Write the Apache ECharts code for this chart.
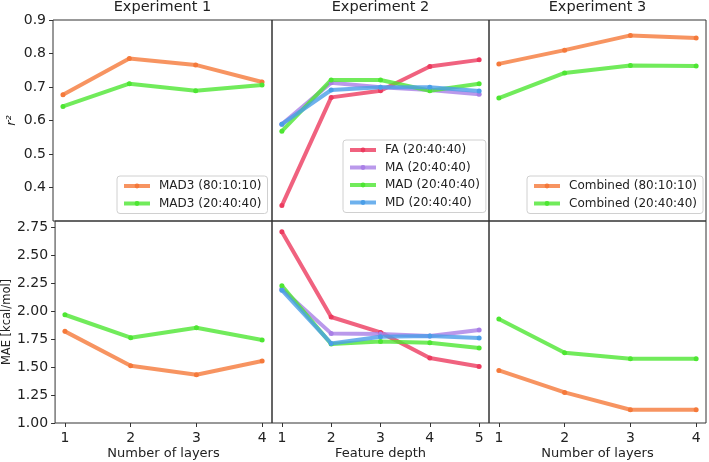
<!DOCTYPE html>
<html>
<head>
<meta charset="utf-8">
<script src="https://cdn.jsdelivr.net/npm/echarts@6/dist/echarts.min.js"></script>
<style>html,body{margin:0;padding:0;background:#fff}#c{width:709px;height:462px}</style>
</head>
<body>
<div id="c"></div>
<script>
// ---- data ----
const titles = ['Experiment 1', 'Experiment 2', 'Experiment 3'];
const xNames = ['Number of layers', 'Feature depth', 'Number of layers'];
const layers = [1, 2, 3, 4];
const depths = [1, 2, 3, 4, 5];
const r2Ticks = [0.4, 0.5, 0.6, 0.7, 0.8, 0.9];
const maeTicks = [1.00, 1.25, 1.50, 1.75, 2.00, 2.25, 2.50, 2.75];

// Experiment 1
const e1_r2_mad3_801010 = [0.677, 0.785, 0.766, 0.715];
const e1_r2_mad3_204040 = [0.642, 0.710, 0.689, 0.706];
const e1_mae_mad3_801010 = [1.821, 1.513, 1.433, 1.556];
const e1_mae_mad3_204040 = [1.970, 1.764, 1.854, 1.744];

// Experiment 2
const e2_r2_fa = [0.346, 0.669, 0.689, 0.761, 0.781];
const e2_r2_ma = [0.589, 0.713, 0.699, 0.691, 0.678];
const e2_r2_mad = [0.568, 0.721, 0.721, 0.689, 0.710];
const e2_r2_md = [0.589, 0.691, 0.699, 0.699, 0.688];
const e2_mae_fa = [2.714, 1.950, 1.812, 1.582, 1.507];
const e2_mae_ma = [2.200, 1.803, 1.797, 1.779, 1.833];
const e2_mae_mad = [2.230, 1.708, 1.731, 1.720, 1.672];
const e2_mae_md = [2.190, 1.713, 1.773, 1.779, 1.761];

// Experiment 3
const e3_r2_comb_801010 = [0.769, 0.810, 0.854, 0.846];
const e3_r2_comb_204040 = [0.667, 0.742, 0.764, 0.763];
const e3_mae_comb_801010 = [1.471, 1.274, 1.119, 1.119];
const e3_mae_comb_204040 = [1.932, 1.630, 1.576, 1.576];

// ---- styling ----
const C = {
  orange: '#f5793a',
  green: '#4de632',
  red: '#ec3b5f',
  purple: '#a97fe6',
  blue: '#4a9ee8'
};
const FONT = 'DejaVu Sans';
const gridLefts = [53, 272, 489];
const gridWidths = [219, 217, 217];
const rowTops = [20, 221];
const rowHeights = [201, 202];

const grids = [];
const xAxes = [];
const yAxes = [];
for (let r = 0; r < 2; r++) {
  for (let c = 0; c < 3; c++) {
    grids.push({
      left: gridLefts[c], top: rowTops[r], width: gridWidths[c], height: rowHeights[r],
      show: true, borderColor: '#333', borderWidth: 1, backgroundColor: 'transparent',
      containLabel: false
    });
    const xs = c === 1 ? depths : layers;
    const span = xs[xs.length - 1] - xs[0];
    const gi = r * 3 + c;
    xAxes.push({
      gridIndex: gi, type: 'value',
      min: xs[0] - 0.05 * span, max: xs[xs.length - 1] + 0.05 * span,
      axisLine: { show: false },
      splitLine: { show: false },
      axisTick: { show: r === 1, customValues: xs, length: 4, inside: false, lineStyle: { color: '#333' } },
      axisLabel: { show: r === 1, customValues: xs, margin: 8, color: '#222', fontFamily: FONT, fontSize: 14 },
      name: r === 1 ? xNames[c] : '',
      nameLocation: 'middle', nameGap: 24,
      nameTextStyle: { fontFamily: FONT, fontSize: 13, color: '#222' }
    });
    const ticks = r === 0 ? r2Ticks : maeTicks;
    yAxes.push({
      gridIndex: gi, type: 'value',
      min: r === 0 ? 0.3 : 1.0, max: r === 0 ? 0.9 : 2.81,
      axisLine: { show: false },
      splitLine: { show: false },
      axisTick: { show: c === 0, customValues: ticks, length: 4, lineStyle: { color: '#333' } },
      axisLabel: {
        show: c === 0, customValues: ticks, margin: 7, color: '#222', fontFamily: FONT, fontSize: 14,
        formatter: v => r === 0 ? Number(v).toFixed(1) : Number(v).toFixed(2)
      },
      name: c === 0 ? (r === 0 ? 'r²' : 'MAE [kcal/mol]') : '',
      nameLocation: 'middle', nameGap: 35,
      nameTextStyle: { fontFamily: FONT, fontSize: r === 0 ? 13 : 11.5, color: '#222', fontStyle: r === 0 ? 'italic' : 'normal' }
    });
  }
}

function mk(name, gi, xs, ys, color) {
  return {
    name: name, type: 'line', xAxisIndex: gi, yAxisIndex: gi,
    data: xs.map((x, i) => [x, ys[i]]),
    symbol: 'circle', symbolSize: 5, showSymbol: true,
    itemStyle: { color: color },
    lineStyle: { color: color, width: 4, opacity: 0.8 },
    emphasis: { disabled: true },
    animation: false
  };
}

const series = [
  mk('MAD3 (80:10:10)', 0, layers, e1_r2_mad3_801010, C.orange),
  mk('MAD3 (20:40:40)', 0, layers, e1_r2_mad3_204040, C.green),
  mk('FA (20:40:40)', 1, depths, e2_r2_fa, C.red),
  mk('MA (20:40:40)', 1, depths, e2_r2_ma, C.purple),
  mk('MAD (20:40:40)', 1, depths, e2_r2_mad, C.green),
  mk('MD (20:40:40)', 1, depths, e2_r2_md, C.blue),
  mk('Combined (80:10:10)', 2, layers, e3_r2_comb_801010, C.orange),
  mk('Combined (20:40:40)', 2, layers, e3_r2_comb_204040, C.green),
  mk('MAD3 (80:10:10) ', 3, layers, e1_mae_mad3_801010, C.orange),
  mk('MAD3 (20:40:40) ', 3, layers, e1_mae_mad3_204040, C.green),
  mk('FA (20:40:40) ', 4, depths, e2_mae_fa, C.red),
  mk('MA (20:40:40) ', 4, depths, e2_mae_ma, C.purple),
  mk('MAD (20:40:40) ', 4, depths, e2_mae_mad, C.green),
  mk('MD (20:40:40) ', 4, depths, e2_mae_md, C.blue),
  mk('Combined (80:10:10) ', 5, layers, e3_mae_comb_801010, C.orange),
  mk('Combined (20:40:40) ', 5, layers, e3_mae_comb_204040, C.green)
];

function legend(names, left, top) {
  return {
    data: names, orient: 'vertical', left: left, top: top,
    itemWidth: 26, itemHeight: 6, itemGap: 3.5,
    padding: [3, 6, 3, 5],
    backgroundColor: 'rgba(255,255,255,0.8)', borderColor: '#d0d0d0', borderWidth: 1, borderRadius: 3,
    selectedMode: false,
    lineStyle: { width: 4, opacity: 0.8 },
    textStyle: { fontFamily: FONT, fontSize: 12, color: '#222', lineHeight: 14, padding: [0, 0, 0, 4] }
  };
}

const titleCenters = gridLefts.map((l, i) => l + gridWidths[i] / 2);

const option = {
  animation: false,
  backgroundColor: '#fff',
  title: titles.map((t, i) => ({
    text: t, left: titleCenters[i], top: 0, textAlign: 'center', padding: 0,
    textStyle: { fontFamily: FONT, fontSize: 14.5, fontWeight: 'normal', color: '#222' }
  })),
  grid: grids,
  xAxis: xAxes,
  yAxis: yAxes,
  legend: [
    legend(['MAD3 (80:10:10)', 'MAD3 (20:40:40)'], 117, 176),
    legend(['FA (20:40:40)', 'MA (20:40:40)', 'MAD (20:40:40)', 'MD (20:40:40)'], 343, 140),
    legend(['Combined (80:10:10)', 'Combined (20:40:40)'], 527, 176)
  ],
  series: series
};

const chart = echarts.init(document.getElementById('c'), null, { renderer: 'canvas' });
chart.setOption(option);
</script>
</body>
</html>
